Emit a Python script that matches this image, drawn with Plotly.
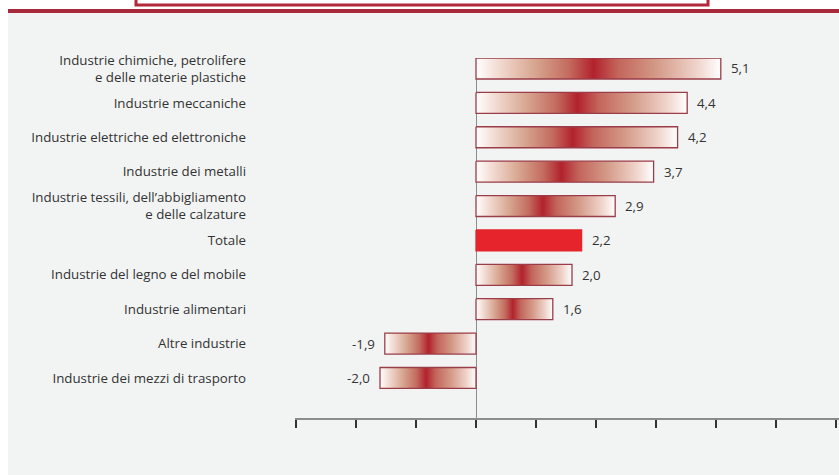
import plotly.graph_objects as go

# --- data -----------------------------------------------------------------
categories = [
    "Industrie chimiche, petrolifere<br>e delle materie plastiche",
    "Industrie meccaniche",
    "Industrie elettriche ed elettroniche",
    "Industrie dei metalli",
    "Industrie tessili, dell’abbigliamento<br>e delle calzature",
    "Totale",
    "Industrie del legno e del mobile",
    "Industrie alimentari",
    "Altre industrie",
    "Industrie dei mezzi di trasporto",
]
values = [5.1, 4.4, 4.2, 3.7, 2.9, 2.2, 2.0, 1.6, -1.9, -2.0]
highlight = "Totale"

# --- styling --------------------------------------------------------------
W, H = 839, 475
L, R, T, B = 295, 0, 58, 57
PW, PH = W - L - R, H - T - B
PX_PER_UNIT = 48.0
ZERO_PX = 476
BAR_HALF = 0.305

TEXT = "#333333"
BORDER = "#9a3d48"
TOTAL_FILL = "#e5242b"
BG = "#f2f4f4"
BRAND_RED = "#a8293b"
FONT = "Open Sans"
FONT_SIZE = 13.3

GRADIENT = [
    [0.00, "#ffffff"],
    [0.10, "#f1d8cf"],
    [0.24, "#d7a690"],
    [0.38, "#c36b5e"],
    [0.48, "#b2222d"],
    [0.58, "#c3655b"],
    [0.74, "#d49b88"],
    [0.90, "#efd3ca"],
    [1.00, "#ffffff"],
]


def px_x(p):
    return (p - L) / PW


def px_y(p):
    return (H - B - p) / PH


fig = go.Figure()

for i, (cat, v) in enumerate(zip(categories, values)):
    y0, y1 = i - BAR_HALF, i + BAR_HALF
    trace = dict(
        x=[0, v, v, 0, 0],
        y=[y0, y0, y1, y1, y0],
        mode="lines",
        fill="toself",
        line=dict(color=BORDER if cat != highlight else TOTAL_FILL, width=1.3),
        hoverinfo="skip",
        showlegend=False,
    )
    if cat == highlight:
        trace["fillcolor"] = TOTAL_FILL
    else:
        trace["fillgradient"] = dict(type="horizontal", colorscale=GRADIENT)
    fig.add_trace(go.Scatter(**trace))

    fig.add_annotation(
        x=v, y=i, xref="x", yref="y",
        text=f"{v:.1f}".replace(".", ","),
        showarrow=False,
        xanchor="left" if v > 0 else "right",
        xshift=8 if v > 0 else -8,
        font=dict(family=FONT, size=FONT_SIZE, color=TEXT),
    )

# background panel, brand rule and header box
fig.add_shape(type="rect", xref="paper", yref="paper",
              x0=px_x(8), x1=px_x(W + 2), y0=px_y(H + 2), y1=px_y(13),
              fillcolor=BG, line_width=0, layer="below")
fig.add_shape(type="rect", xref="paper", yref="paper",
              x0=px_x(8), x1=px_x(W + 2), y0=px_y(13), y1=px_y(9),
              fillcolor=BRAND_RED, line_width=0, layer="below")
fig.add_shape(type="rect", xref="paper", yref="paper",
              x0=px_x(136), x1=px_x(708), y0=px_y(5), y1=px_y(-10),
              fillcolor="#ffffff", line=dict(color="#b4283a", width=3), layer="below")

x_lo = -(ZERO_PX - L) / PX_PER_UNIT
x_hi = (W - R - ZERO_PX) / PX_PER_UNIT

fig.update_xaxes(
    range=[x_lo, x_hi],
    showgrid=False,
    showline=True, linecolor="#8c8c8c", linewidth=1.5,
    zeroline=True, zerolinecolor="#8c8c8c", zerolinewidth=1,
    ticks="outside", ticklen=8, tickwidth=1.5, tickcolor="#333333",
    tick0=0, dtick=1.25,
    showticklabels=False,
    fixedrange=True,
)
fig.update_yaxes(
    range=[9 + (418 - 378) / 34.36, -BAR_HALF],
    tickmode="array",
    tickvals=list(range(len(categories))),
    ticktext=categories,
    showgrid=False, zeroline=False, showline=False,
    ticks="",
    ticklabelstandoff=48,
    tickfont=dict(family=FONT, size=FONT_SIZE, color=TEXT),
    fixedrange=True,
)

fig.update_layout(
    width=W, height=H,
    margin=dict(l=L, r=R, t=T, b=B),
    paper_bgcolor="#ffffff",
    plot_bgcolor="rgba(0,0,0,0)",
    showlegend=False,
)

fig.write_html("out.html")
